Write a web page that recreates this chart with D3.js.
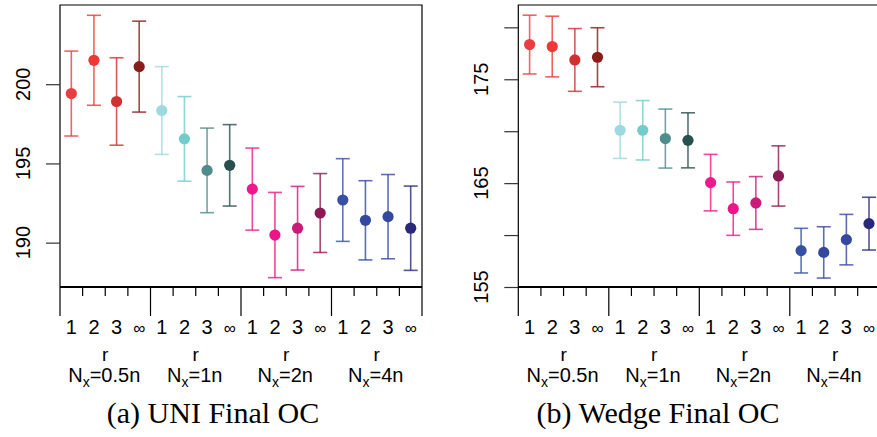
<!DOCTYPE html>
<html>
<head>
<meta charset="utf-8">
<script src="https://cdn.jsdelivr.net/npm/d3@7"></script>
<style>
  body { margin: 0; background: #fff; }
  svg { display: block; }
</style>
</head>
<body>
<div id="chart"></div>
<script>
// x categories
const rLabels = ["1", "2", "3", "\u221E"];
const nxLabels = ["0.5n", "1n", "2n", "4n"];

// (a) UNI Final OC
const uniMean = [199.41, 201.51, 198.91, 201.11, 198.34, 196.55, 194.56, 194.88,
  193.38, 190.48, 190.91, 191.87, 192.69, 191.41, 191.64, 190.91];
const uniErr = [2.68, 2.84, 2.76, 2.87, 2.77, 2.67, 2.67, 2.57,
  2.59, 2.69, 2.64, 2.49, 2.61, 2.50, 2.66, 2.66];
const uniTicks = [190, 195, 200];

// (b) Wedge Final OC
const wedgeMean = [178.34, 178.15, 176.86, 177.12, 170.09, 170.09, 169.29, 169.12,
  165.05, 162.54, 163.09, 165.69, 158.50, 158.33, 159.56, 161.10];
const wedgeErr = [2.83, 2.92, 3.02, 2.84, 2.71, 2.86, 2.84, 2.65,
  2.72, 2.57, 2.54, 2.90, 2.15, 2.47, 2.43, 2.54];
const wedgeTicks = [155, 160, 165, 170, 175, 180];
const wedgeTickLabels = [155, 165, 175];

const colors = [
  "#ea3d42", "#ee3838", "#d03030", "#8a1c1c",
  "#9dd9e0", "#72cccc", "#4f8c8c", "#2a4f4f",
  "#ec1a8c", "#ec168a", "#cc1a78", "#8c1a52",
  "#3650a6", "#3448a0", "#3448a0", "#28297a"
];

const W = 877, H = 437;
const sans = "'Liberation Sans', Arial, sans-serif";

const svg = d3
  .select("#chart")
  .append("svg")
  .attr("width", W)
  .attr("height", H);

function drawPanel(opts) {
  const { left, domain, means, errs, ticks, tickLabels, caption, captionX } = opts;
  const top = 5, bottom = 287;
  const step = 22.625;
  const right = left + step * 16;

  const cats = d3.range(16);
  const xScale = d3.scaleBand().domain(cats).range([left, right]);
  const yScale = d3.scaleLinear().domain(domain).range([bottom, top]);

  const g = svg.append("g");

  // box
  g.append("path")
    .attr("d", `M${left},${bottom}V${top}H${right}V${bottom}`)
    .attr("fill", "none")
    .attr("stroke", "#000")
    .attr("stroke-width", 1.2);

  // y axis (ticks only, labels drawn rotated below)
  const yAxis = g
    .append("g")
    .attr("transform", "translate(" + left + ",0)")
    .call(d3.axisLeft(yScale).tickValues(ticks).tickSize(14).tickFormat(""));
  yAxis.select(".domain").remove();
  yAxis.selectAll(".tick line").attr("stroke", "#333").attr("stroke-width", 1.2);

  g.selectAll(".ylab")
    .data(tickLabels)
    .enter()
    .append("text")
    .attr("transform", function (d) {
      return "translate(" + (left - 30) + "," + yScale(d) + ") rotate(-90)";
    })
    .attr("text-anchor", "middle")
    .attr("font-family", sans)
    .attr("font-size", 20)
    .attr("fill", "#000")
    .text(function (d) { return d; });

  // x axis: minor ticks between bars, long ticks between groups
  const edges = d3.range(17).map(function (i) {
    return i < 16 ? xScale(i) : xScale(15) + xScale.bandwidth();
  });
  g.append("line")
    .attr("x1", left).attr("x2", right)
    .attr("y1", bottom).attr("y2", bottom)
    .attr("stroke", "#000")
    .attr("stroke-width", 2.2);
  g.selectAll(".xtick")
    .data(edges)
    .enter()
    .append("line")
    .attr("x1", function (d) { return d; })
    .attr("x2", function (d) { return d; })
    .attr("y1", bottom)
    .attr("y2", function (d, i) { return i % 4 === 0 ? 316 : 296; })
    .attr("stroke", "#000")
    .attr("stroke-width", 1.2);

  g.selectAll(".rlab")
    .data(cats)
    .enter()
    .append("text")
    .attr("x", function (d) { return xScale(d) + xScale.bandwidth() / 2; })
    .attr("y", 334)
    .attr("text-anchor", "middle")
    .attr("font-family", sans)
    .attr("font-size", function (d) { return d % 4 === 3 ? 17 : 20; })
    .text(function (d) { return rLabels[d % 4]; });

  const groupCenter = function (k) {
    return (xScale(k * 4) + xScale(k * 4 + 3) + xScale.bandwidth()) / 2;
  };
  g.selectAll(".rname")
    .data(nxLabels)
    .enter()
    .append("text")
    .attr("x", function (d, k) { return groupCenter(k); })
    .attr("y", 361)
    .attr("text-anchor", "middle")
    .attr("font-family", sans)
    .attr("font-size", 19)
    .text("r");

  const nx = g.selectAll(".nx")
    .data(nxLabels)
    .enter()
    .append("text")
    .attr("x", function (d, k) { return groupCenter(k) - 1; })
    .attr("y", 382)
    .attr("text-anchor", "middle")
    .attr("font-family", sans)
    .attr("font-size", 20);
  nx.append("tspan").text("N");
  nx.append("tspan").attr("font-size", 14).attr("dy", 5).text("x");
  nx.append("tspan").attr("dy", -5).text(function (d) { return "=" + d; });

  // error bars
  const bars = g.selectAll(".err")
    .data(cats)
    .enter()
    .append("g")
    .attr("stroke", function (d) { return colors[d]; })
    .attr("stroke-opacity", 0.8)
    .attr("stroke-width", 1.6)
    .attr("fill", "none");
  const cx = function (d) { return xScale(d) + xScale.bandwidth() / 2; };
  bars.append("line")
    .attr("x1", cx).attr("x2", cx)
    .attr("y1", function (d) { return yScale(means[d] + errs[d]); })
    .attr("y2", function (d) { return yScale(means[d] - errs[d]); });
  bars.append("line")
    .attr("x1", function (d) { return cx(d) - 7; })
    .attr("x2", function (d) { return cx(d) + 7; })
    .attr("y1", function (d) { return yScale(means[d] + errs[d]); })
    .attr("y2", function (d) { return yScale(means[d] + errs[d]); });
  bars.append("line")
    .attr("x1", function (d) { return cx(d) - 7; })
    .attr("x2", function (d) { return cx(d) + 7; })
    .attr("y1", function (d) { return yScale(means[d] - errs[d]); })
    .attr("y2", function (d) { return yScale(means[d] - errs[d]); });

  // points
  g.selectAll(".pt")
    .data(cats)
    .enter()
    .append("circle")
    .attr("cx", cx)
    .attr("cy", function (d) { return yScale(means[d]); })
    .attr("r", 5.6)
    .attr("fill", function (d) { return colors[d]; });

  // caption
  g.append("text")
    .attr("x", captionX)
    .attr("y", 423)
    .attr("text-anchor", "middle")
    .attr("font-family", "'Liberation Serif', 'Times New Roman', serif")
    .attr("font-size", 30)
    .text(caption);
}

drawPanel({
  left: 60,
  domain: [187.2, 205.0],
  means: uniMean,
  errs: uniErr,
  ticks: uniTicks,
  tickLabels: uniTicks,
  caption: "(a) UNI Final OC",
  captionX: 213
});

drawPanel({
  left: 518.3,
  domain: [155, 182.15],
  means: wedgeMean,
  errs: wedgeErr,
  ticks: wedgeTicks,
  tickLabels: wedgeTickLabels,
  caption: "(b) Wedge Final OC",
  captionX: 658
});
</script>
</body>
</html>
